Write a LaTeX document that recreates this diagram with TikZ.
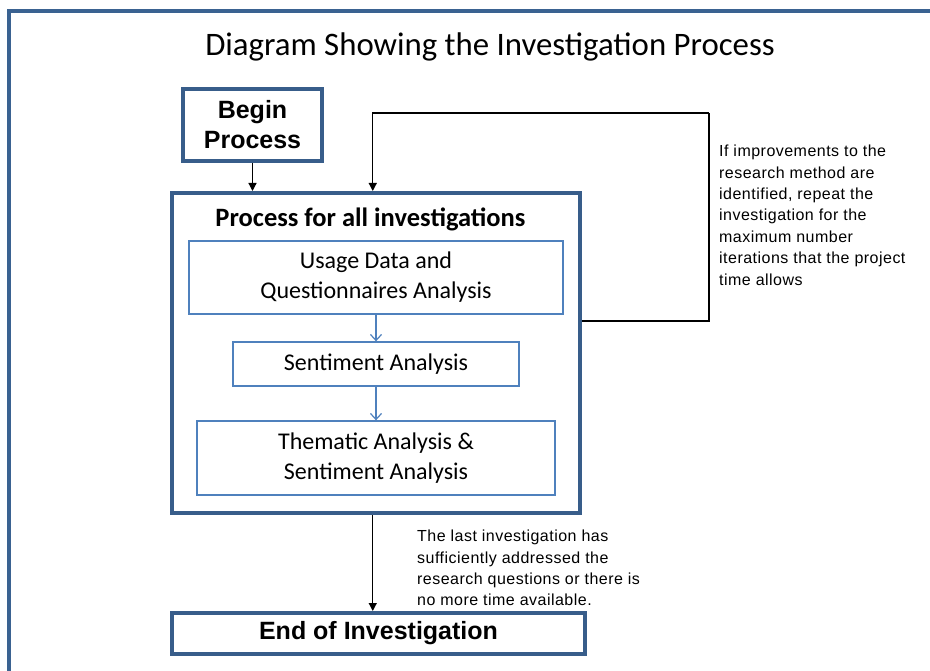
\documentclass[tikz,border=0pt]{standalone}
\usepackage{fontspec}
\setmainfont{Carlito}
\newfontfamily\arialfont{Liberation Sans}
\newfontfamily\notefont[LetterSpace=3]{Liberation Sans}
\usetikzlibrary{arrows.meta,positioning}
\definecolor{frameblue}{HTML}{3A6291}
\definecolor{boxblue}{HTML}{385D8A}
\definecolor{stageblue}{HTML}{4F81BD}

\begin{document}
\begin{tikzpicture}[x=1pt,y=-1pt,
    heavybox/.style={draw=boxblue,line width=4pt,inner sep=0pt,align=center},
    stagebox/.style={draw=stageblue,line width=1.3pt,inner sep=0pt,align=center,font=\fontsize{24}{30}\selectfont},
    blk/.style={-{Triangle[length=8pt,width=8pt]},line width=1.2pt},
    stagearrow/.style={-{Straight Barb[length=6pt,width=11pt]},draw=stageblue,line width=1.2pt},
    note/.style={anchor=north west,inner sep=0pt,align=left,font=\notefont\fontsize{16}{21.4}\selectfont}]
    \useasboundingbox (0,0) rectangle (930,671);
    \fill[white] (0,0) rectangle (930,671);
    \draw[frameblue,line width=4pt] (9,671) -- (9,11) -- (930,11);

    \node (title) at (490,47) {\fontsize{32.8}{38}\selectfont Diagram Showing the Investigation Process};
    \node[heavybox,minimum width=139,minimum height=72,font=\arialfont\bfseries\fontsize{25}{30}\selectfont] (begin) at (252.5,125) {Begin\\Process};
    \node[heavybox,minimum width=408.5,minimum height=320] (main) at (375.75,353) {};
    \node[font=\bfseries\fontsize{26.5}{32}\selectfont] (mainlabel) at (370.5,219) {Process for all investigations};

    \node[stagebox,minimum width=374,minimum height=73] (usage) at (376,277.5) {Usage Data and\\Questionnaires Analysis};
    \node[stagebox,minimum width=286,minimum height=44] (senti) at (376,364) {Sentiment Analysis};
    \node[stagebox,minimum width=358,minimum height=74] (thema) at (376,458) {Thematic Analysis \&\\Sentiment Analysis};
    \node[heavybox,minimum width=413,minimum height=41,font=\arialfont\bfseries\fontsize{25}{30}\selectfont] (end) at (378.5,633.5) {\raisebox{-1.5pt}{End of Investigation}};

    \draw[stagearrow] (usage) -- (senti);
    \draw[stagearrow] (senti) -- (thema);

    \coordinate (loop) at (709,113);
    \draw[blk] (begin) -- (begin.south |- main.north);
    \draw[line width=1.2pt] ([yshift=32]main.east) -| (loop);
    \draw[blk] (loop) -| ([xshift=-3]main.north);
    \draw[blk] ([xshift=-3]main.south) -- ([xshift=-3]main.south |- end.north);

    \node[note] (repeatnote) at (719,145) {If improvements to the\\research method are\\identified, repeat the\\investigation for the\\maximum number\\iterations that the project\\time allows};
    \node[note] (stopnote) at (417,530) {The last investigation has\\sufficiently addressed the\\research questions or there is\\no more time available.};
\end{tikzpicture}
\end{document}
